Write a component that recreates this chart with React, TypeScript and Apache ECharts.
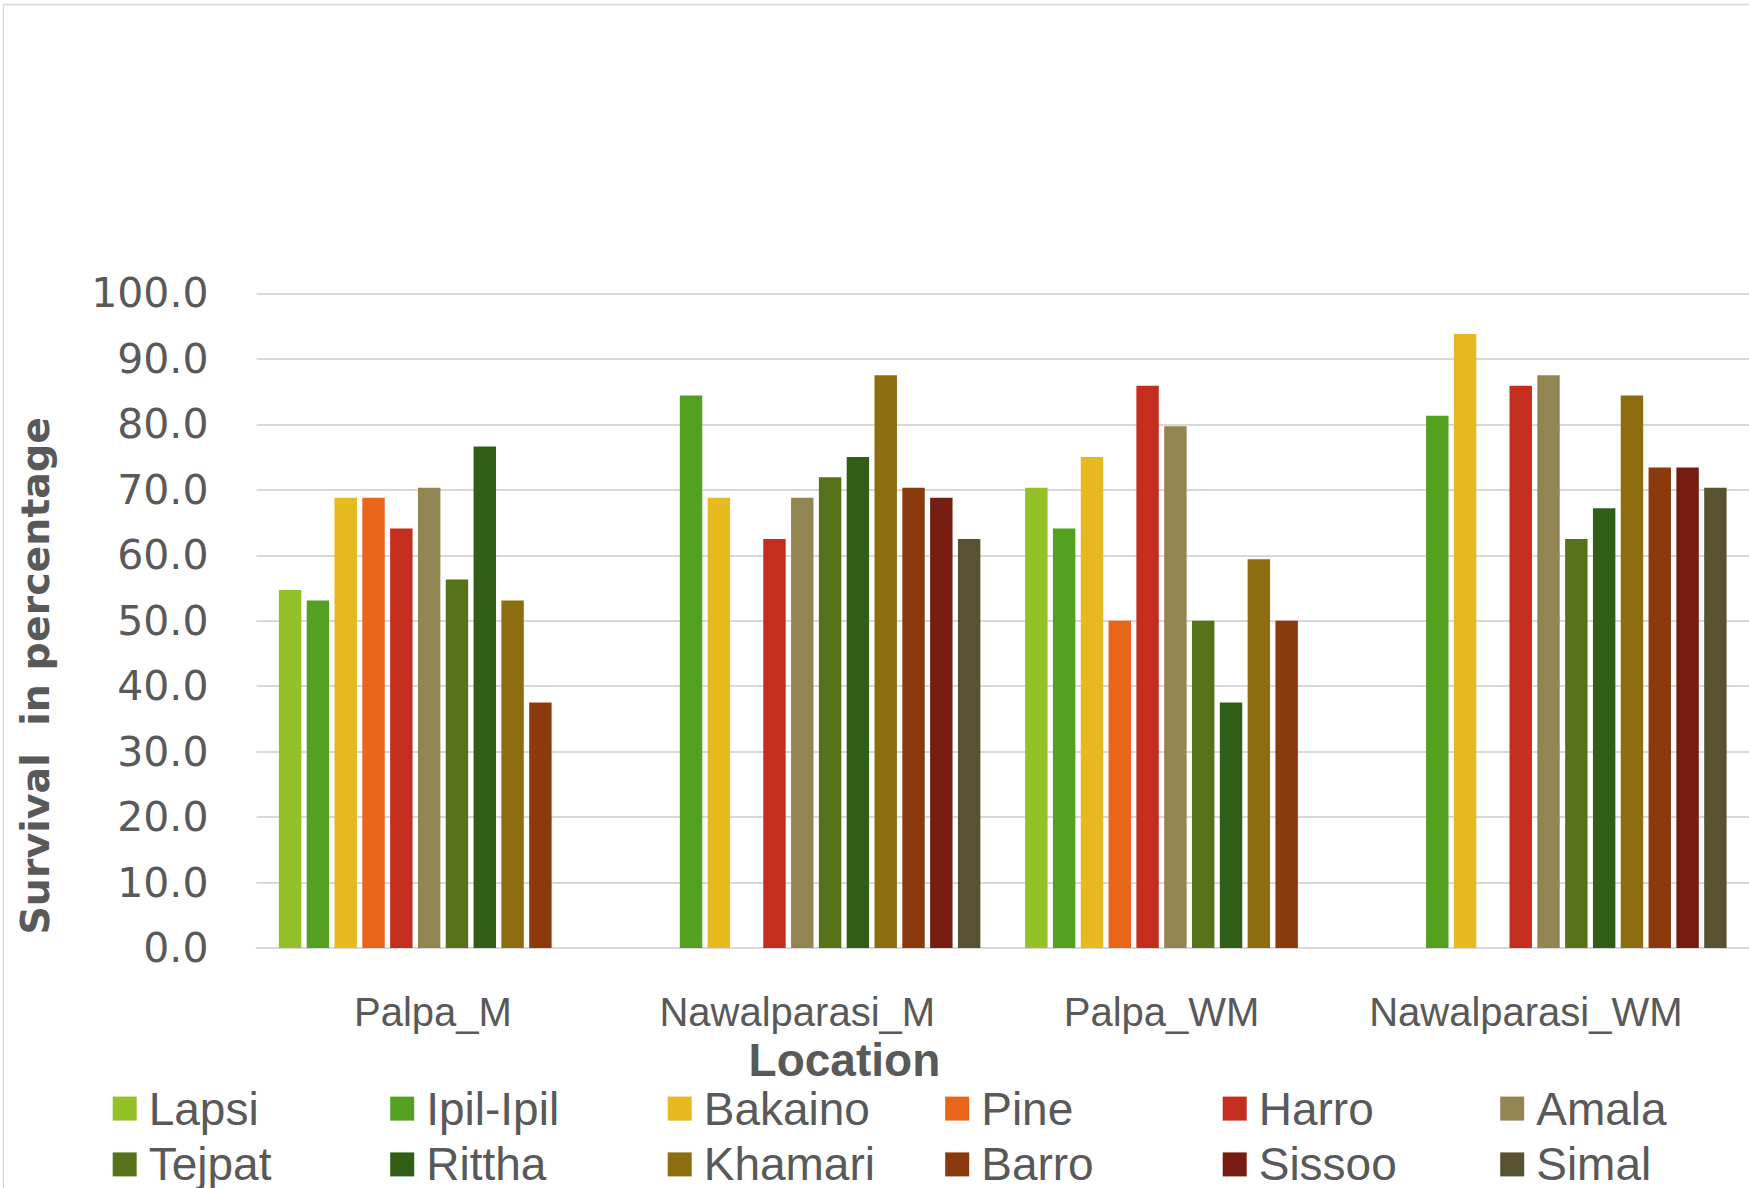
import React, { useEffect, useRef } from "react";
import * as echarts from "echarts";

const categories = ["Palpa_M", "Nawalparasi_M", "Palpa_WM", "Nawalparasi_WM"];
const seriesNames = ["Lapsi", "Ipil-Ipil", "Bakaino", "Pine", "Harro", "Amala", "Tejpat", "Rittha", "Khamari", "Barro", "Sissoo", "Simal"];
const lapsi = [54.7, null, 70.3, null];
const ipilIpil = [53.1, 84.4, 64.1, 81.3];
const bakaino = [68.8, 68.8, 75.0, 93.8];
const pine = [68.8, null, 50.0, null];
const harro = [64.1, 62.5, 85.9, 85.9];
const amala = [70.3, 68.8, 79.7, 87.5];
const tejpat = [56.3, 71.9, 50.0, 62.5];
const rittha = [76.6, 75.0, 37.5, 67.2];
const khamari = [53.1, 87.5, 59.4, 84.4];
const barro = [37.5, 70.3, 50.0, 73.4];
const sissoo = [null, 68.8, null, 73.4];
const simal = [null, 62.5, null, 70.3];
const seriesValues = [lapsi, ipilIpil, bakaino, pine, harro, amala, tejpat, rittha, khamari, barro, sissoo, simal];
const colors = ["#93C127", "#54A021", "#E6B91E", "#E8661A", "#C42E1E", "#938552", "#56731A", "#315E16", "#8C6E10", "#8B3A0E", "#771C11", "#575232"];
const yMin = 0;
const yMax = 100;
const yInterval = 10;

const textColor = "#595959";
const narrowFont = "'Liberation Sans', Arial, sans-serif";
const numFont = "'DejaVu Sans', Verdana, sans-serif";

export default function App() {
  const ref = useRef<HTMLDivElement>(null);
  useEffect(() => {
    if (!ref.current) return;
    const chart = echarts.init(ref.current, null, { renderer: "svg" });
    const legendCommon = {
      left: 112.7,
      width: 1630,
      padding: 0,
      orient: "horizontal" as const,
      icon: "rect",
      itemWidth: 24,
      itemHeight: 24,
      itemGap: 11.5,
      selectedMode: false,
      textStyle: {
        fontFamily: narrowFont,
        fontSize: 46,
        color: textColor,
        width: 230,
        lineHeight: 44,
        padding: [0, 0, 0, 7],
      },
    };
    const legendData = (names: string[]) =>
      names.map((n, i) => (i === names.length - 1 ? { name: n, textStyle: { width: 130 } } : { name: n }));
    const option: any = {
      animation: false,
      backgroundColor: "#ffffff",
      color: colors,
      graphic: [
        {
          type: "rect",
          shape: { x: 3.5, y: 4.5, width: 1800, height: 1300 },
          style: { fill: "none", stroke: "#d9d9d9", lineWidth: 1.5 },
          silent: true,
        },
      ],
      grid: [
        { left: 256.5, right: -5.5, top: 293.4, bottom: 239.9 },
        { left: 250.8, right: 41, top: 293.4, bottom: 239.9 },
      ],
      xAxis: [
        {
          type: "category",
          gridIndex: 0,
          data: categories,
          axisLine: { show: true, lineStyle: { color: "#d9d9d9", width: 2 } },
          axisTick: { show: false },
          axisLabel: { show: false },
          splitLine: { show: false },
        },
        {
          type: "category",
          gridIndex: 1,
          data: categories,
          axisLine: { show: false },
          axisTick: { show: false },
          axisLabel: {
            show: true,
            margin: 44,
            fontFamily: narrowFont,
            fontSize: 40,
            lineHeight: 40,
            color: textColor,
            interval: 0,
          },
          name: "Location",
          nameLocation: "middle",
          nameGap: 88.6,
          nameTextStyle: {
            fontFamily: narrowFont,
            fontWeight: "bold",
            fontSize: 46,
            lineHeight: 46,
            color: textColor,
            padding: [0, 270, 0, 0],
          },
        },
      ],
      yAxis: [
        {
          type: "value",
          gridIndex: 0,
          min: yMin,
          max: yMax,
          interval: yInterval,
          axisLine: { show: false },
          axisTick: { show: false },
          splitLine: { show: true, lineStyle: { color: "#d9d9d9", width: 2 } },
          axisLabel: {
            margin: 48,
            fontFamily: numFont,
            fontSize: 41,
            color: textColor,
            formatter: (v: number) => v.toFixed(1),
          },
          name: "Survival  in percentage",
          nameLocation: "middle",
          nameGap: 199,
          nameTextStyle: {
            fontFamily: numFont,
            fontWeight: "bold",
            fontSize: 39.5,
            lineHeight: 46,
            color: textColor,
            padding: [0, 110, 0, 0],
          },
        },
        {
          type: "value",
          gridIndex: 1,
          min: yMin,
          max: yMax,
          show: false,
        },
      ],
      legend: [
        { ...legendCommon, top: 1085.6, data: legendData(seriesNames.slice(0, 6)) },
        { ...legendCommon, top: 1141.4, data: legendData(seriesNames.slice(6)) },
      ],
      series: seriesNames.map((name, i) => ({
        name,
        type: "bar",
        xAxisIndex: 0,
        yAxisIndex: 0,
        data: seriesValues[i],
        barGap: "24%",
        barCategoryGap: "12%",
        itemStyle: { color: colors[i] },
      })),
    };
    chart.setOption(option);
    return () => chart.dispose();
  }, []);
  return (
    <div
      ref={ref}
      style={{ position: "absolute", left: 0, top: 0, width: 1749, height: 1188, background: "#fff" }}
    />
  );
}
